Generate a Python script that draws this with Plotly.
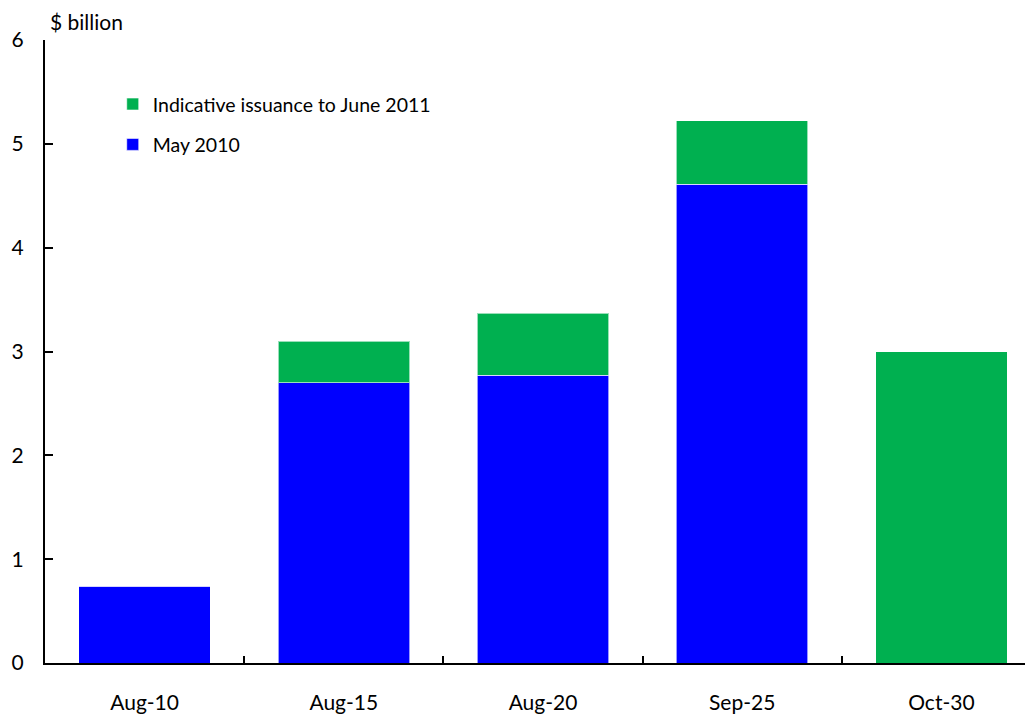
import plotly.graph_objects as go

categories = ["Aug-10", "Aug-15", "Aug-20", "Sep-25", "Oct-30"]
may_2010 = [0.74, 2.70, 2.77, 4.61, 0.0]
indicative = [0.0, 0.40, 0.60, 0.61, 3.00]
y_ticks = [0, 1, 2, 3, 4, 5, 6]

FONT = "Lato, Open Sans, sans-serif"

fig = go.Figure()
fig.add_trace(go.Bar(
    x=categories, y=may_2010, name="May 2010",
    marker=dict(color="#0000FF", line=dict(color="rgba(255,255,255,0.6)", width=1)),
    legendrank=2, legendgroup="b",
))
fig.add_trace(go.Bar(
    x=categories, y=indicative, name="Indicative issuance to June 2011",
    marker=dict(color="#00B050", line=dict(color="rgba(255,255,255,0.6)", width=1)),
    legendrank=1, legendgroup="a",
))

fig.update_layout(
    barmode="stack",
    bargap=0.34,
    width=1033, height=715,
    margin=dict(l=37, r=0, t=32, b=60, autoexpand=False),
    plot_bgcolor="white", paper_bgcolor="white",
    font=dict(family=FONT, size=19.5, color="black"),
    showlegend=True,
    legend=dict(
        x=0.068, y=0.928, xanchor="left", yanchor="top",
        traceorder="grouped", tracegroupgap=12,
        font=dict(size=19.5), itemwidth=30, bgcolor="rgba(0,0,0,0)",
    ),
    annotations=[dict(
        text="$ billion", xref="paper", yref="paper", x=0.003, y=1.0,
        xanchor="left", yanchor="bottom", yshift=4, showarrow=False,
        font=dict(size=21),
    )],
)
fig.update_xaxes(
    type="category", range=[-0.5, 4.5], automargin=False,
    showline=True, linecolor="black", linewidth=2,
    ticks="inside", tickson="boundaries", ticklen=7, tickwidth=2, tickcolor="black",
    ticklabelstandoff=20, tickfont=dict(size=21),
    showgrid=False, zeroline=False,
)
fig.update_yaxes(
    range=[0, 6], tickvals=y_ticks, automargin=False,
    showline=True, linecolor="black", linewidth=2,
    ticks="inside", ticklen=8, tickwidth=2, tickcolor="black",
    ticklabelstandoff=15, tickfont=dict(size=21),
    showgrid=False, zeroline=False,
)

fig.write_html("out.html")
